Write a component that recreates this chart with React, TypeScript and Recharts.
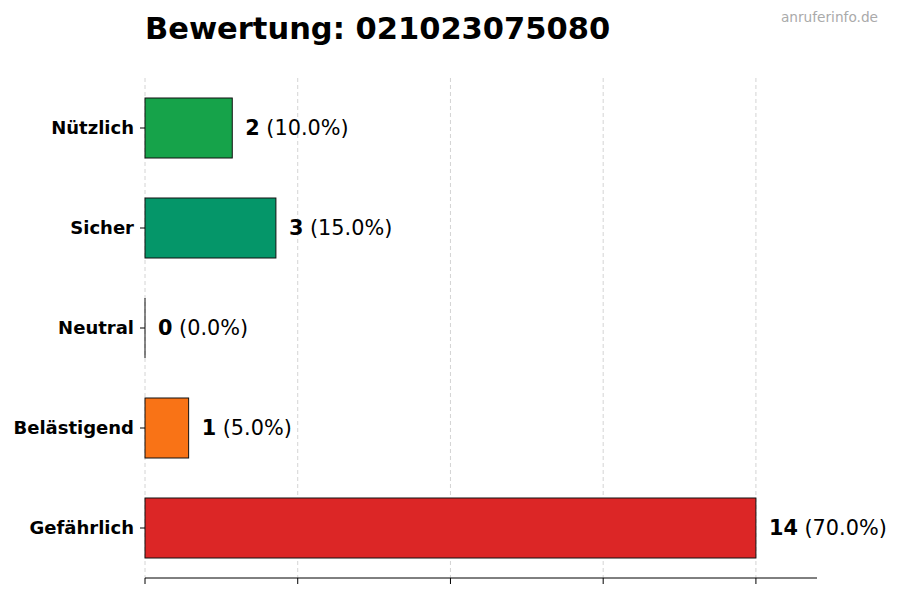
import React from "react";
import { BarChart, Bar, XAxis, YAxis, CartesianGrid, Cell, LabelList } from "recharts";

const categories = ["Nützlich", "Sicher", "Neutral", "Belästigend", "Gefährlich"];
const counts = [2, 3, 0, 1, 14];
const shares = [10.0, 15.0, 0.0, 5.0, 70.0];
const colors = ["#16a34a", "#059669", "#6b7280", "#f97316", "#dc2626"];
const xTicks = [0, 3.5, 7, 10.5, 14];

const data = categories.map((name, i) => ({ name, value: counts[i], pct: shares[i] }));

const FONT = "'DejaVu Sans', sans-serif";

function BarShape(props: any) {
  const { x, y, width, height, fill } = props;
  if (!width) {
    return <line x1={x} x2={x} y1={y} y2={y + height} stroke="#111" strokeWidth={1} />;
  }
  return <rect x={x} y={y} width={width} height={height} fill={fill} stroke="#111" strokeWidth={1} />;
}

function ValueLabel(props: any) {
  const { x, y, width, height, index } = props;
  const d = data[index];
  return (
    <text x={x + width + 13} y={y + height / 2} dominantBaseline="central" fontFamily={FONT} fontSize={20.8} fill="#000">
      <tspan fontWeight="bold">{d.value}</tspan>
      <tspan>{` (${d.pct.toFixed(1)}%)`}</tspan>
    </text>
  );
}

export default function App() {
  return (
    <div style={s.wrap}>
      <div style={s.title}>Bewertung: 021023075080</div>
      <div style={s.mark}>anruferinfo.de</div>
      <BarChart
        width={900}
        height={600}
        data={data}
        layout="vertical"
        margin={{ top: 78, right: 83, bottom: 0, left: 0 }}
        barCategoryGap={0}
      >
        <CartesianGrid horizontal={false} vertical syncWithTicks stroke="#d4d4d4" strokeDasharray="4 3" />
        <XAxis
          type="number"
          domain={[0, 15.4]}
          ticks={xTicks}
          height={22}
          tickSize={6}
          tickFormatter={() => ""}
          stroke="#000"
          axisLine={{ stroke: "#000" }}
          tickLine={{ stroke: "#000" }}
        />
        <YAxis
          type="category"
          dataKey="name"
          width={145}
          axisLine={false}
          tickSize={5}
          tickMargin={6}
          tickLine={{ stroke: "#000" }}
          tick={{ fill: "#000", fontSize: 18, fontWeight: "bold", fontFamily: FONT }}
        />
        <Bar dataKey="value" barSize={60} shape={<BarShape />} isAnimationActive={false}>
          {data.map((d, i) => (
            <Cell key={d.name} fill={colors[i]} />
          ))}
          <LabelList dataKey="value" content={<ValueLabel />} />
        </Bar>
      </BarChart>
    </div>
  );
}

const s: Record<string, React.CSSProperties> = {
  wrap: { position: "absolute", left: 0, top: 0, width: 900, height: 600, background: "#fff" },
  title: {
    position: "absolute", left: 145, top: 11, fontFamily: FONT, fontWeight: "bold",
    fontSize: 30.5, lineHeight: "36px", color: "#000", whiteSpace: "nowrap",
  },
  mark: {
    position: "absolute", right: 22, top: 9, fontFamily: FONT, fontSize: 13.7,
    lineHeight: "16px", color: "#aaaaaa", whiteSpace: "nowrap",
  },
};
